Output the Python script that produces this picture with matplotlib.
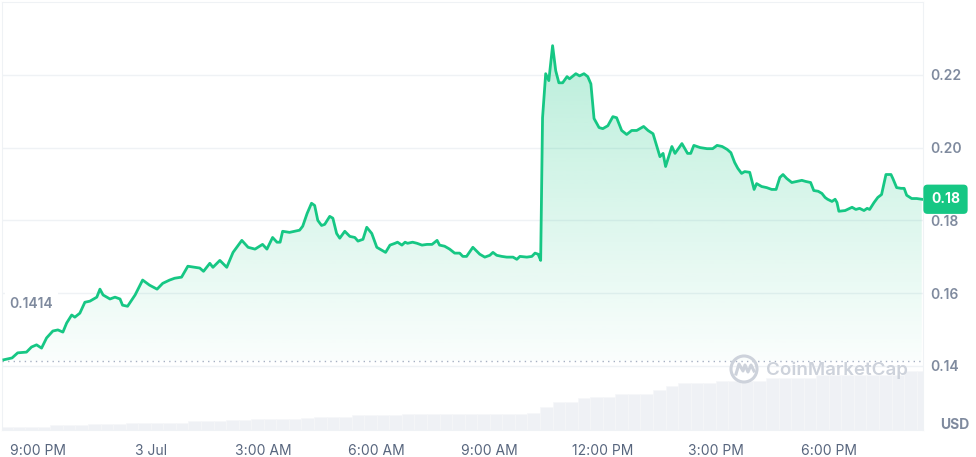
import numpy as np
import matplotlib
matplotlib.use("Agg")
import matplotlib.pyplot as plt
import matplotlib.transforms as mtrans
from matplotlib.patches import Ellipse
from matplotlib.lines import Line2D

plt.rcParams['font.family'] = ['Inter', 'DejaVu Sans']

# minutes after 9:00 PM (2 Jul)
price_min = [-54, -41, -32, -18, -10, -2, 6, 14, 24, 32,
             40, 46, 54, 59, 67, 75, 83, 94, 99, 104,
             115, 123, 131, 135, 143, 155, 167, 178, 190, 199,
             210, 218, 229, 239, 250, 258, 264, 274, 279, 290,
             301, 311, 325, 335, 346, 358, 365, 374, 381, 386,
             390, 401, 409, 417, 422, 429, 436, 441, 446, 452,
             457, 465, 470, 476, 481, 489, 497, 505, 510, 518,
             524, 532, 540, 548, 554, 561, 569, 573, 580, 585,
             589, 597, 604, 612, 620, 628, 636, 640, 648, 656,
             664, 672, 677, 683, 693, 704, 712, 720, 725, 731,
             739, 747, 757, 763, 768, 779, 787, 792, 797, 801,
             804, 809, 814, 820, 825, 830, 836, 843, 847, 857,
             863, 870, 876, 881, 886, 894, 900, 908, 916, 922,
             930, 938, 946, 954, 965, 972, 980, 991, 996, 1000,
             1010, 1015, 1026, 1035, 1040, 1045, 1055, 1066, 1075, 1082,
             1090, 1098, 1104, 1110, 1115, 1121, 1126, 1134, 1141, 1145,
             1153, 1161, 1169, 1176, 1182, 1187, 1193, 1201, 1209, 1217,
             1223, 1231, 1236, 1243, 1249, 1254, 1258, 1265, 1270, 1273,
             1276, 1286, 1297, 1303, 1309, 1316, 1321, 1325, 1332, 1338,
             1344, 1351, 1359, 1362, 1368, 1375, 1380, 1384, 1392, 1400, 1408]
price = [0.1417, 0.1422, 0.1436, 0.1438, 0.1452, 0.1458, 0.1449, 0.1477, 0.1496, 0.1499,
         0.1493, 0.1518, 0.1540, 0.1534, 0.1545, 0.1575, 0.1578, 0.1589, 0.1611, 0.1595,
         0.1584, 0.1589, 0.1584, 0.1567, 0.1564, 0.1595, 0.1636, 0.1622, 0.1611, 0.1627,
         0.1636, 0.1641, 0.1644, 0.1674, 0.1671, 0.1669, 0.1660, 0.1682, 0.1671, 0.1690,
         0.1671, 0.1712, 0.1745, 0.1726, 0.1721, 0.1734, 0.1721, 0.1753, 0.1740, 0.1740,
         0.1770, 0.1767, 0.1770, 0.1773, 0.1784, 0.1819, 0.1847, 0.1841, 0.1800, 0.1786,
         0.1789, 0.1811, 0.1806, 0.1764, 0.1751, 0.1770, 0.1756, 0.1753, 0.1743, 0.1748,
         0.1781, 0.1764, 0.1726, 0.1718, 0.1712, 0.1732, 0.1737, 0.1740, 0.1732, 0.1740,
         0.1737, 0.1740, 0.1737, 0.1732, 0.1734, 0.1734, 0.1745, 0.1732, 0.1729, 0.1721,
         0.1710, 0.1710, 0.1701, 0.1701, 0.1726, 0.1707, 0.1699, 0.1704, 0.1712, 0.1704,
         0.1701, 0.1699, 0.1699, 0.1693, 0.1701, 0.1699, 0.1701, 0.1710, 0.1707, 0.1690,
         0.2082, 0.2203, 0.2184, 0.2280, 0.2211, 0.2178, 0.2178, 0.2195, 0.2189, 0.2203,
         0.2197, 0.2203, 0.2195, 0.2175, 0.2080, 0.2055, 0.2052, 0.2060, 0.2085, 0.2082,
         0.2047, 0.2036, 0.2047, 0.2047, 0.2058, 0.2047, 0.2038, 0.1975, 0.1984, 0.1948,
         0.2003, 0.1984, 0.2011, 0.1984, 0.1984, 0.2006, 0.2000, 0.1997, 0.1997, 0.2006,
         0.2003, 0.1995, 0.1986, 0.1959, 0.1943, 0.1929, 0.1934, 0.1932, 0.1885, 0.1901,
         0.1893, 0.1890, 0.1885, 0.1885, 0.1918, 0.1926, 0.1915, 0.1904, 0.1907, 0.1910,
         0.1907, 0.1904, 0.1882, 0.1880, 0.1874, 0.1863, 0.1858, 0.1852, 0.1858, 0.1849,
         0.1825, 0.1827, 0.1836, 0.1830, 0.1833, 0.1827, 0.1833, 0.1830, 0.1849, 0.1863,
         0.1871, 0.1926, 0.1926, 0.1915, 0.1890, 0.1888, 0.1888, 0.1869, 0.1860, 0.1860, 0.1858]

# volume bars every 20 minutes (arbitrary units)
vol_min = np.arange(-50, 1411, 20)
volume = [0.33, 0.33, 0.33, 0.33, 0.5, 0.5, 0.5, 0.6, 0.6, 0.6,
          0.73, 0.73, 0.73, 0.73, 0.73, 0.9, 0.9, 0.9, 1.0, 1.0,
          1.1, 1.1, 1.1, 1.1, 1.2, 1.33, 1.33, 1.33, 1.47, 1.47,
          1.47, 1.47, 1.6, 1.6, 1.6, 1.6, 1.6, 1.6, 1.6, 1.6,
          1.6, 1.6, 1.7, 2.3, 2.8, 2.8, 3.2, 3.3, 3.3, 3.6,
          3.6, 3.6, 4.0, 4.4, 4.7, 4.7, 4.7, 4.9, 4.9, 4.9,
          4.9, 5.2, 5.2, 5.2, 5.2, 5.5, 5.5, 5.5, 5.5, 5.5,
          5.5, 5.5, 5.9, 5.9]

open_price = 0.1414
badge_label = "0.18"
y_ticks = [0.14, 0.16, 0.18, 0.20, 0.22]
x_ticks = [0, 180, 360, 540, 720, 900, 1080, 1260]
x_labels = ["9:00 PM", "3 Jul", "3:00 AM", "6:00 AM", "9:00 AM", "12:00 PM", "3:00 PM", "6:00 PM"]

GREEN = "#16C784"
GRID = "#EFF2F5"
LABEL = "#7F8A9E"
XLABEL = "#58667E"

W, H = 976, 457
fig = plt.figure(figsize=(W / 100, H / 100), dpi=100)
ax = fig.add_axes([2 / W, 27 / H, 921 / W, 428 / H])
ax2 = ax.twinx()
ax.set_zorder(2); ax2.set_zorder(1)
ax.patch.set_visible(False)

# volume
ax2.bar(vol_min, volume, width=20, color="#EFF1F5", edgecolor="#F6F7F9", linewidth=0.4)
ax2.set_ylim(0, 42.8)
ax2.axis("off")

xlim = (-57, 1410)
ylim = (0.1224, 0.2400)

# gradient fill under the price line
px = [price_min[0]] + price_min + [price_min[-1]]
py = [open_price] + price + [open_price]
poly = ax.fill(px, py, facecolor="none", edgecolor="none")[0]
grad = np.zeros((256, 1, 4))
grad[..., :3] = matplotlib.colors.to_rgb(GREEN)
grad[:, 0, 3] = np.linspace(0.30, 0.02, 256)
im = ax.imshow(grad, extent=[xlim[0], xlim[1], open_price, max(price)],
               aspect="auto", origin="upper", zorder=2)
im.set_clip_path(poly)

ax.plot(price_min, price, color=GREEN, lw=2, solid_joinstyle="round", zorder=4)
ax.axhline(open_price, color="#A6B0C3", lw=1, ls=(0, (1, 3)), zorder=3)

ax.set_xlim(*xlim); ax.set_ylim(*ylim)
ax.set_xticks(x_ticks, x_labels)
ax.yaxis.tick_right()
ax.set_yticks(y_ticks, [f"{v:.2f}" for v in y_ticks])
ax.tick_params(axis="x", length=0, pad=10, labelsize=10, labelcolor=XLABEL)
ax.tick_params(axis="y", length=0, pad=5, labelsize=10, labelcolor=LABEL)
for lbl in ax.get_yticklabels():
    lbl.set_fontweight("semibold")
ax.grid(axis="y", color=GRID, lw=1)
ax.set_axisbelow(True)
for s in ax.spines.values():
    s.set_color(GRID)

# open price label
ax.text(-45, 0.1570, f"{open_price:.4f}", ha="left", va="center", fontsize=10,
        color=LABEL, fontweight="semibold", zorder=5,
        bbox=dict(boxstyle="square,pad=0.35", fc="white", ec="none"))

# last price badge
ax.annotate(badge_label, xy=(1, price[-1]), xycoords=("axes fraction", "data"),
            xytext=(8, 0), textcoords="offset pixels", ha="left", va="center",
            fontsize=10, color="white", fontweight="bold", annotation_clip=False, zorder=6,
            bbox=dict(boxstyle="round,pad=0.55,rounding_size=0.3", fc=GREEN, ec="none"))

fig.text(955 / W, 1 - 425 / H, "USD", ha="center", va="center", fontsize=10,
         color=LABEL, fontweight="bold")

# watermark
wm = "#CDD2DB"
fig.text(766 / W, 1 - 370 / H, "CoinMarketCap", ha="left", va="center", fontsize=13.5,
         color=wm, fontweight="semibold", zorder=10)
ident = mtrans.IdentityTransform()
cx, cy = 744, H - 369
fig.add_artist(Ellipse((cx, cy), 26, 26, transform=ident, fill=False, ec=wm, lw=2.2, zorder=10))
wx = [cx - 8, cx - 5, cx - 1, cx + 1, cx + 4, cx + 7, cx + 10]
wy = [cy - 5, cy + 5, cy - 2, cy + 4, cy - 3, cy + 4, cy - 2]
fig.add_artist(Line2D(wx, wy, transform=ident, color=wm, lw=2.2, solid_joinstyle="round", zorder=10))

fig.savefig("out.png", dpi=100)
